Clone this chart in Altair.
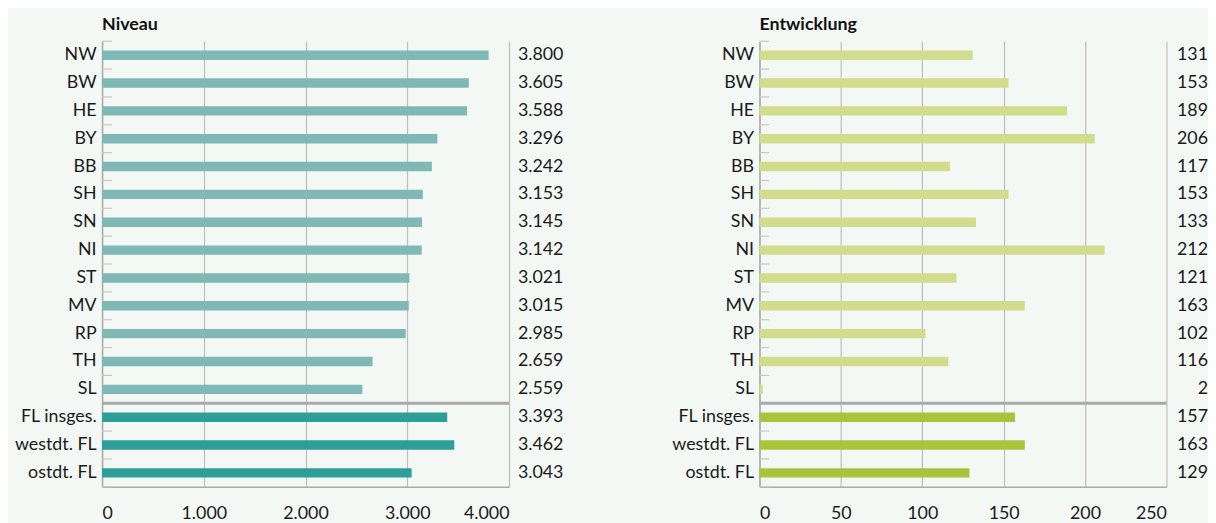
import altair as alt
import pandas as pd

categories = ["NW", "BW", "HE", "BY", "BB", "SH", "SN", "NI", "ST", "MV", "RP", "TH", "SL",
              "FL insges.", "westdt. FL", "ostdt. FL"]
groups = ["Land"] * 13 + ["FL"] * 3
niveau = [3800, 3605, 3588, 3296, 3242, 3153, 3145, 3142, 3021, 3015, 2985, 2659, 2559,
          3393, 3462, 3043]
entwicklung = [131, 153, 189, 206, 117, 153, 133, 212, 121, 163, 102, 116, 2,
               157, 163, 129]
niveau_ticks = [0, 1000, 2000, 3000, 4000]
entw_ticks = [0, 50, 100, 150, 200, 250]

FONT = "Lato"
FS = 18
W = 411
H = 450
STEP = H / len(categories)
BG = "#f4f8f5"
GRID = "#bdbdbd"
DOMAIN = "#aaaaaa"

df = pd.DataFrame({"cat": categories, "grp": groups, "niveau": niveau, "entw": entwicklung})

fmt_expr = "replace(format({v}, ',d'), ',', '.')"


def panel(field, domain, ticks, colors, title, label_x, label_align):
    base = alt.Chart(df)
    y = alt.Y("cat:N", sort=categories,
              scale=alt.Scale(paddingInner=0, paddingOuter=0),
              axis=alt.Axis(title=None, ticks=False, domain=True, domainColor=DOMAIN,
                            domainWidth=1.5, labelFont=FONT, labelFontSize=FS,
                            labelColor="#1a1a1a", labelPadding=6, grid=False))
    x = alt.X(f"{field}:Q", scale=alt.Scale(domain=domain, nice=False, zero=True),
              axis=alt.Axis(title=None, values=ticks, ticks=False, domain=True,
                            domainColor=DOMAIN, domainWidth=1.5, grid=True,
                            gridColor=GRID, gridWidth=1.2, labelFont=FONT,
                            labelFontSize=FS, labelColor="#1a1a1a", labelPadding=18,
                            labelExpr=fmt_expr.format(v="datum.value")))
    bars = base.mark_bar(size=9.5).encode(
        y=y, x=x,
        color=alt.condition(alt.datum.grp == "FL", alt.value(colors[1]), alt.value(colors[0])),
    )
    tick_top = base.mark_rule(yOffset=-STEP / 2, color="#c8c8c8", strokeWidth=1.2).encode(
        y=alt.Y("cat:N", sort=categories), x=alt.value(0), x2=alt.value(10)
    ).transform_filter(alt.datum.cat != "FL insges.")
    tick_bottom = base.mark_rule(yOffset=STEP / 2, color="#c8c8c8", strokeWidth=1.2).encode(
        y=alt.Y("cat:N", sort=categories), x=alt.value(0), x2=alt.value(10)
    ).transform_filter(alt.datum.cat == "ostdt. FL")
    sep = base.mark_rule(yOffset=-STEP / 2, color="#a8a8a8", strokeWidth=3).encode(
        y=alt.Y("cat:N", sort=categories), x=alt.value(0), x2=alt.value(W)
    ).transform_filter(alt.datum.cat == "FL insges.")
    labels = base.transform_calculate(
        lab=fmt_expr.format(v=f"datum.{field}")
    ).mark_text(align=label_align, baseline="middle", font=FONT, fontSize=FS,
                color="#1a1a1a").encode(
        y=alt.Y("cat:N", sort=categories), x=alt.value(label_x), text="lab:N"
    )
    return alt.layer(bars, tick_top, tick_bottom, sep, labels).properties(
        width=W, height=H,
        title=alt.TitleParams(title, anchor="start", frame="group", font=FONT,
                              fontSize=18, fontWeight="bold", color="#111111",
                              offset=7),
    )


left = panel("niveau", [0, 4000], niveau_ticks, ["#7fb8b5", "#2e9e99"], "Niveau",
             W + 9, "left")
right = panel("entw", [0, 250], entw_ticks, ["#d1dc8c", "#a8c43a"], "Entwicklung",
              W + 42, "right")

chart = alt.hconcat(left, right, spacing=108).properties(
    background=BG,
    padding={"left": 6, "top": 5, "right": 0, "bottom": 0},
).configure_view(stroke=None).configure_concat(spacing=108)

chart.save("out.html", embed_options={"renderer": "svg", "actions": False})
